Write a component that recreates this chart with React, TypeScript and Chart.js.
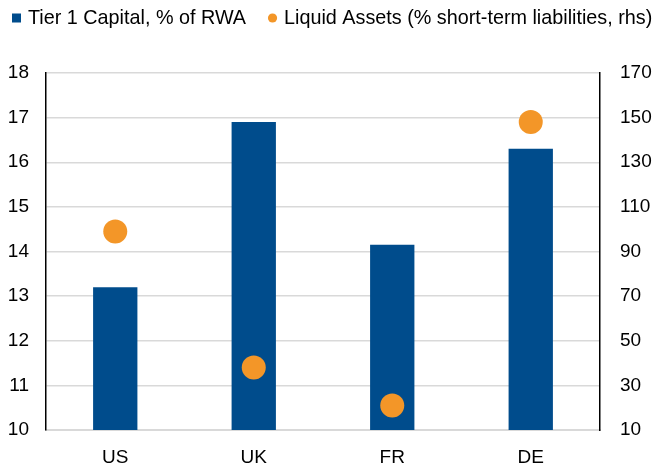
import React, { useEffect, useRef } from "react";
import { Chart, registerables } from "chart.js";

Chart.register(...registerables);

const categories = ["US", "UK", "FR", "DE"];
const tier1Capital = [13.2, 16.9, 14.15, 16.3];
const liquidAssets = [99, 38, 21, 148];

const seriesLabels = ["Tier 1 Capital, % of RWA", "Liquid Assets (% short-term liabilities, rhs)"];

const leftAxisRange = [10, 18];
const leftAxisStep = 1;
const rightAxisRange = [10, 170];
const rightAxisStep = 20;

const BLUE = "#004C8C";
const ORANGE = "#F39628";
const GRID = "#d9d9d9";
const FONT_FAMILY = '"Liberation Sans", Arial, sans-serif';
const TICK_FONT_SIZE = 19;
const LEGEND_FONT_SIZE = 19.8;

const legendPlugin = {
  id: "customLegend",
  afterDraw(chart: any) {
    const ctx = chart.ctx;
    ctx.save();
    ctx.font = `${LEGEND_FONT_SIZE}px ${FONT_FAMILY}`;
    ctx.textBaseline = "middle";
    ctx.textAlign = "left";
    let x = 12;
    const y = 18;
    chart.data.datasets.forEach((ds: any) => {
      ctx.fillStyle = ds.backgroundColor;
      if (ds.type === "line") {
        ctx.beginPath();
        ctx.arc(x + 4.5, y, 4.6, 0, Math.PI * 2);
        ctx.fill();
      } else {
        ctx.fillRect(x, y - 4.5, 9, 9);
      }
      ctx.fillStyle = "#000";
      ctx.fillText(ds.label, x + 16, y + 1);
      x += 16 + ctx.measureText(ds.label).width + 22;
    });
    ctx.restore();
  },
};

export default function App() {
  const canvasRef = useRef<HTMLCanvasElement | null>(null);

  useEffect(() => {
    document.body.style.margin = "0";
    const canvas = canvasRef.current;
    if (!canvas) return;
    const tickFont = { family: FONT_FAMILY, size: TICK_FONT_SIZE };
    const chart = new Chart(canvas, {
      type: "bar",
      data: {
        labels: categories,
        datasets: [
          {
            type: "bar",
            label: seriesLabels[0],
            data: tier1Capital,
            backgroundColor: BLUE,
            borderWidth: 0,
            yAxisID: "y",
            order: 1,
            categoryPercentage: 1,
            barPercentage: 0.32,
          } as any,
          {
            type: "line",
            label: seriesLabels[1],
            data: liquidAssets,
            backgroundColor: ORANGE,
            borderColor: ORANGE,
            showLine: false,
            pointRadius: 12,
            pointHoverRadius: 12,
            pointBorderWidth: 0,
            yAxisID: "y1",
            order: 0,
          } as any,
        ],
      },
      options: {
        responsive: false,
        animation: false,
        devicePixelRatio: 1,
        layout: { padding: { top: 73, left: 0, right: 0, bottom: 0 } },
        plugins: {
          legend: { display: false },
          tooltip: { enabled: false },
        },
        scales: {
          x: {
            offset: true,
            grid: { display: false, drawTicks: false },
            border: { color: GRID, width: 2 },
            ticks: { font: tickFont, color: "#000", padding: 16 },
            afterFit: (s: any) => {
              s.height = 34;
            },
          },
          y: {
            position: "left",
            min: leftAxisRange[0],
            max: leftAxisRange[1],
            ticks: { stepSize: leftAxisStep, font: tickFont, color: "#000", padding: 17 },
            grid: { color: GRID, lineWidth: 1.5, drawTicks: false },
            border: { color: "#000", width: 1.5 },
            afterFit: (s: any) => {
              s.width = 46;
            },
          },
          y1: {
            position: "right",
            min: rightAxisRange[0],
            max: rightAxisRange[1],
            ticks: { stepSize: rightAxisStep, font: tickFont, color: "#000", padding: 20 },
            grid: { display: false, drawTicks: false },
            border: { color: "#000", width: 1.5 },
            afterFit: (s: any) => {
              s.width = 59;
            },
          },
        },
      } as any,
      plugins: [legendPlugin],
    });
    return () => chart.destroy();
  }, []);

  return (
    <div style={{ width: 659, height: 464, position: "relative" }}>
      <canvas ref={canvasRef} width={659} height={464} style={{ display: "block" }} />
    </div>
  );
}
